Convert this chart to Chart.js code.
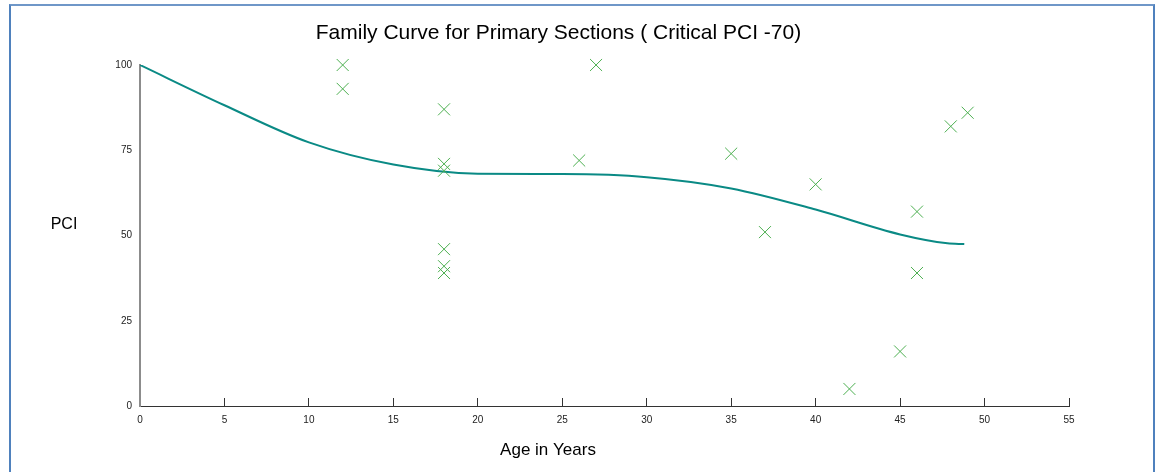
<!DOCTYPE html>
<html>
<head>
<meta charset="utf-8">
<title>Family Curve</title>
<script src="https://cdn.jsdelivr.net/npm/chart.js@4/dist/chart.umd.min.js"></script>
<style>
  html, body { margin: 0; padding: 0; background: #fff; overflow: hidden; }
  #wrap { position: relative; width: 1160px; height: 472px; }
  #frame {
    position: absolute; left: 9px; top: 4px; width: 1142px; height: 500px;
    border: 2px solid #4f81bd; border-top-color: #6f97c8; pointer-events: none;
  }
  #chartBox { position: absolute; left: 0; top: 0; width: 1117px; height: 472px; }
</style>
</head>
<body>
<div id="wrap">
  <div id="chartBox"><canvas id="pciChart" width="1117" height="472"></canvas></div>
  <div id="frame"></div>
</div>
<script>
// Обследованные участки: возраст (лет) и PCI
const sampleAge = [12, 12, 18, 18, 18, 18, 18, 18, 26, 27, 35, 37, 40, 42, 45, 46, 46, 48, 49];
const samplePci = [100, 93, 87, 71, 69, 46, 41, 39, 72, 100, 74, 51, 65, 5, 16, 57, 39, 82, 86];

// Кривая семейства
const curveAge = [0, 5, 10, 15, 20, 25, 30, 35, 40, 45, 47.8, 48.8];
const curvePci = [100, 88.2, 77.3, 70.8, 68.1, 68, 67.1, 63.8, 57.6, 50.3, 47.7, 47.5];

// Подписи осей
const xTicks = [0, 5, 10, 15, 20, 25, 30, 35, 40, 45, 50, 55];
const yTicks = [0, 25, 50, 75, 100];

const FONT = '"Liberation Sans", Arial, sans-serif';
const toPoints = (xs, ys) => xs.map((x, i) => ({ x: x, y: ys[i] }));

// Подписи осей рисуем сами: "PCI" горизонтально, "Age in Years" снизу
const axisLabelPlugin = {
    id: 'axisLabels',
    afterDraw(chart) {
        const c = chart.ctx;
        c.save();
        c.fillStyle = '#000';
        c.textAlign = 'center';
        c.textBaseline = 'middle';
        c.font = '16px ' + FONT;
        c.fillText('PCI', 64, 225);
        c.font = '17px ' + FONT;
        c.fillText('Age in Years', 548, 450);
        c.restore();
    }
};

const ctx = document.getElementById('pciChart').getContext('2d');
new Chart(ctx, {
    type: 'scatter',
    data: {
        datasets: [{
            label: 'Family curve',
            data: toPoints(curveAge, curvePci),
            showLine: true,
            borderColor: '#0a8a85',
            borderWidth: 2,
            pointRadius: 0,
            cubicInterpolationMode: 'monotone',
            order: 2
        }, {
            label: 'Sections',
            data: toPoints(sampleAge, samplePci),
            pointStyle: 'crossRot',
            pointRadius: 8.5,
            pointBorderWidth: 1,
            borderColor: '#4caf50',
            backgroundColor: '#4caf50',
            clip: false,
            order: 1
        }]
    },
    options: {
        responsive: false,
        animation: false,
        layout: { padding: { left: 48, right: 48, top: 0, bottom: 0 } },
        plugins: {
            legend: { display: false },
            tooltip: { enabled: false },
            title: {
                display: true,
                text: 'Family Curve for Primary Sections ( Critical PCI -70)',
                color: '#000',
                font: { family: FONT, size: 21, weight: 'normal' },
                padding: { top: 20.4, bottom: 19.4 }
            }
        },
        scales: {
            x: {
                type: 'linear',
                min: 0,
                max: 55,
                afterBuildTicks: (s) => { s.ticks = xTicks.map(v => ({ value: v })); },
                afterFit: (s) => { s.height = 66; },
                border: { color: '#333', width: 1 },
                grid: { drawOnChartArea: false, drawTicks: true, tickLength: -8, color: '#333', lineWidth: 1 },
                ticks: {
                    padding: 16,
                    color: '#222',
                    font: { family: FONT, size: 10 }
                }
            },
            y: {
                type: 'linear',
                min: 0,
                max: 100,
                afterBuildTicks: (s) => { s.ticks = yTicks.map(v => ({ value: v })); },
                afterFit: (s) => { s.width = 92; },
                border: { color: '#8c8c8c', width: 2 },
                grid: { display: false, drawTicks: false },
                ticks: {
                    padding: 8,
                    color: '#222',
                    font: { family: FONT, size: 10 }
                }
            }
        }
    },
    plugins: [axisLabelPlugin]
});
</script>
</body>
</html>
